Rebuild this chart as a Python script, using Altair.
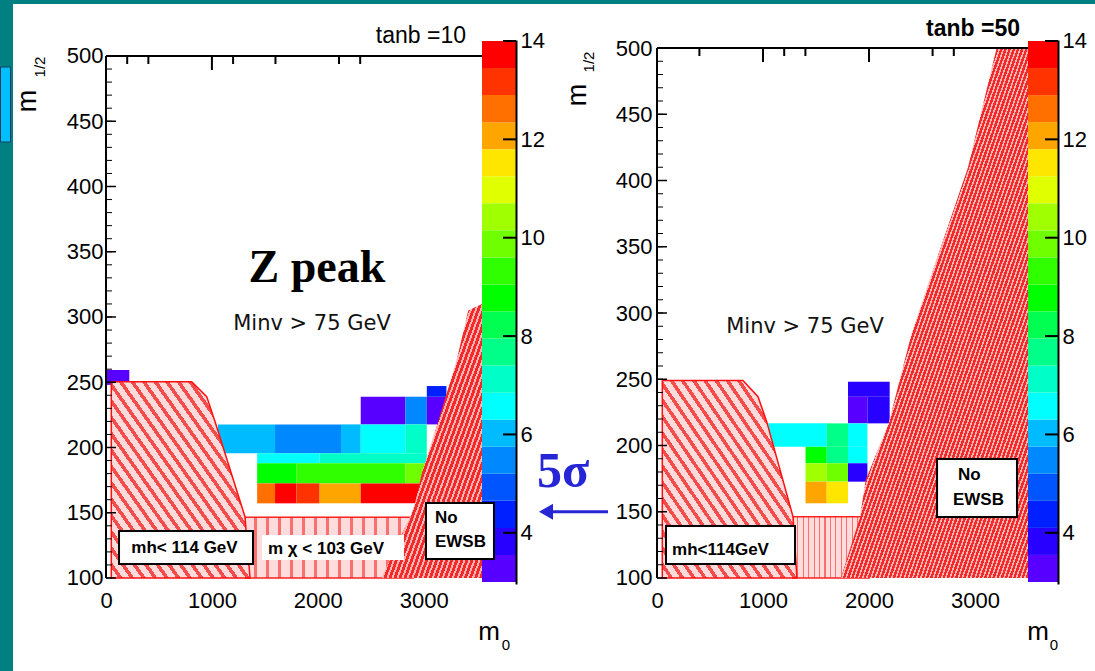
import altair as alt
import pandas as pd

FONT = "Liberation Sans"
SERIF = "Liberation Serif"
TEAL = "#008080"
BLUE = "#2626D6"

# ---------------- colour scale: 20 contour levels between 3 and 14 ----------------
Z_EDGES = [3.0, 3.55, 4.1, 4.65, 5.2, 5.75, 6.3, 6.85, 7.4, 7.95, 8.5,
           9.05, 9.6, 10.15, 10.7, 11.25, 11.8, 12.35, 12.9, 13.45, 14.0]
PALETTE = ["#5800FF", "#2800FF", "#0020FF", "#0055FF", "#0088FF", "#00BBFF",
           "#00FFFF", "#00FFC8", "#00FF88", "#00FF50", "#00FF00", "#30FF00",
           "#70FF00", "#A0FF00", "#E0FF00", "#FFE600", "#FFA500", "#FF7000",
           "#FF3300", "#FF0000"]
CBAR_TICKS = [4, 6, 8, 10, 12, 14]
X_LABELS = [0, 1000, 2000, 3000]
Y_LABELS = [100, 150, 200, 250, 300, 350, 400, 450, 500]
Y_MINOR = [100, 110, 120, 130, 140, 150, 160, 170, 180, 190, 200, 210, 220, 230,
           240, 250, 260, 270, 280, 290, 300, 310, 320, 330, 340, 350, 360, 370,
           380, 390, 400, 410, 420, 430, 440, 450, 460, 470, 480, 490, 500]

# ---------------- left panel (tanb = 10) ----------------
L_X0 = [0, 2405, 2827, 3029, 3029, 1056, 1596, 2219, 2405, 2827, 1427, 2017,
        1427, 1798, 2827, 1427, 1596, 1798, 2017, 2405]
L_X1 = [220, 2827, 3029, 3214, 3214, 1596, 2219, 2405, 2827, 3029, 2017, 3029,
        1798, 2827, 3029, 1596, 1798, 2017, 2405, 2990]
L_Y0 = [248.0, 217.7, 217.7, 217.7, 238.9, 195.5, 195.5, 195.5, 195.5, 195.5,
        187.9, 187.9, 172.5, 172.5, 172.5, 157.2, 157.2, 157.2, 157.2, 157.2]
L_Y1 = [259.4, 238.9, 238.9, 238.9, 247.1, 217.7, 217.7, 217.7, 217.7, 217.7,
        195.5, 195.5, 187.9, 187.9, 187.9, 172.5, 172.5, 172.5, 172.5, 172.5]
L_Z = [3.3, 3.3, 5.5, 3.3, 4.4, 6.0, 5.5, 6.0, 6.6, 7.1,
       6.6, 7.1, 8.8, 9.3, 9.9, 12.6, 13.7, 13.2, 12.1, 13.7]

L_HIGGS_X = [50, 809, 951, 1029, 1312, 1360]
L_HIGGS_Y = [250.4, 250.4, 239, 220, 147, 100]
L_CHARG = [1312, 2900, 100, 146.5]
L_EWSB_Y = [100, 147, 157, 180, 216, 267, 305, 310]
L_EWSB_X = [2600, 2870, 2917, 2981, 3122, 3311, 3420, 3550]
L_TOP_MINOR = [200, 400, 1200, 1600, 2200, 2400]
L_TOP_MAJOR = [1000]

# ---------------- right panel (tanb = 50) ----------------
R_X0 = [1802, 1802, 1985, 1050, 1601, 1802, 1401, 1601, 1802, 1401, 1601, 1802, 1401, 1601]
R_X1 = [2195, 1985, 2195, 1601, 1802, 1985, 1601, 1802, 1985, 1601, 1802, 1985, 1601, 1802]
R_Y0 = [236.8, 216.7, 216.7, 199.0, 199.0, 199.0, 186.6, 186.6, 186.6, 172.7, 172.7, 172.7, 156.4, 156.4]
R_Y1 = [248.2, 236.8, 236.8, 216.7, 216.7, 216.7, 199.0, 199.0, 199.0, 186.6, 186.6, 186.6, 172.7, 172.7]
R_Z = [3.8, 3.3, 3.8, 6.6, 7.7, 6.6, 8.8, 7.7, 6.6, 10.4, 9.9, 3.8, 12.1, 11.5]

R_HIGGS_X = [50, 811, 953, 1035, 1283, 1320]
R_HIGGS_Y = [249, 249, 236.8, 218, 146.3, 100]
R_CHARG = [1283, 2000, 100, 146.3]
R_EWSB_Y = [100, 146, 174, 217, 285, 410, 500]
R_EWSB_X = [1736, 1915, 1969, 2186, 2403, 2934, 3204]
R_TOP_MINOR = [400, 1200, 1400, 2600, 2800]
R_TOP_MAJOR = [1000, 2000]

COLOR = alt.Scale(type="quantize", domain=[3, 14], range=PALETTE)
ONE = pd.DataFrame({"a": [0]})
H = 544


def hatch(base, ink, n, frac, x1=0, y1=1, x2=1, y2=0):
    """Striped linear gradient used as a stand-in for ROOT's hatched fill style."""
    stops = []
    for k in range(n):
        a = k / n
        b = (k + 1 - frac) / n
        c = (k + 1) / n
        stops += [alt.GradientStop(color=base, offset=a), alt.GradientStop(color=base, offset=b),
                  alt.GradientStop(color=ink, offset=b), alt.GradientStop(color=ink, offset=c)]
    return alt.LinearGradient(gradient="linear", stops=stops, x1=x1, y1=y1, x2=x2, y2=y2)


def ptext(x, y, s, **kw):
    return alt.Chart(ONE).mark_text(**kw).encode(
        x=alt.value(x), y=alt.value(y), text=alt.value(s))


def build(cfg):
    W = cfg["W"]
    X = alt.Scale(domain=[0, cfg["xmax"]], nice=False, zero=False)
    Y = alt.Scale(domain=cfg["ydom"], nice=False, zero=False)
    common = dict(title=None, labelFlush=False, labelOverlap=False, zindex=1, domain=False,
                  ticks=False, tickSize=0, grid=False, labelFont=FONT, labelFontSize=22,
                  labelColor="black", format="d")
    xa = alt.Axis(orient="bottom", values=X_LABELS, labelPadding=6, **common)
    ya = alt.Axis(orient="left", values=Y_LABELS, labelPadding=cfg["ypad"], **common)

    def xe(f):
        return alt.X(f, type="quantitative", scale=X, axis=xa)

    def ye(f):
        return alt.Y(f, type="quantitative", scale=Y, axis=ya)

    def dtext(x, y, s, **kw):
        return alt.Chart(pd.DataFrame({"x": [x], "y": [y], "s": [s]})).mark_text(**kw).encode(
            x=xe("x"), y=ye("y"), text="s:N")

    def box(x0, x1, y0, y1, stroke=True):
        m = alt.Chart(pd.DataFrame({"x0": [x0], "x1": [x1], "y0": [y0], "y1": [y1]}))
        if stroke:
            m = m.mark_rect(fill="white", stroke="black", strokeWidth=2)
        else:
            m = m.mark_rect(fill="white")
        return m.encode(x=xe("x0"), x2="x1:Q", y=ye("y0"), y2="y1:Q")

    cells = alt.Chart(pd.DataFrame({"x0": cfg["cx0"], "x1": cfg["cx1"], "y0": cfg["cy0"],
                                    "y1": cfg["cy1"], "z": cfg["cz"]})).mark_rect().encode(
        x=xe("x0"), x2="x1:Q", y=ye("y0"), y2="y1:Q",
        color=alt.Color("z:Q", scale=COLOR, legend=None))

    cx = cfg["charg"]
    charg = alt.Chart(pd.DataFrame({"x0": [cx[0]], "x1": [cx[1]], "y0": [cx[2]], "y1": [cx[3]]})).mark_rect(
        fill=hatch("#FFDCDC", "#F87070", 14, 0.22, 0, 0, 1, 0), stroke="#FF2020", strokeWidth=1.5).encode(
        x=xe("x0"), x2="x1:Q", y=ye("y0"), y2="y1:Q")

    higgs = alt.Chart(pd.DataFrame({"x": cfg["hx"], "y": cfg["hy"], "y0": [100] * len(cfg["hx"])})).mark_area(
        orient="vertical", fill=hatch("#FFDADA", "#F54C4C", 24, 0.38),
        stroke="#FF1010", strokeWidth=1.5, opacity=1).encode(
        x=xe("x"), y=ye("y"), y2="y0:Q")

    ewsb = alt.Chart(pd.DataFrame({"y": cfg["ey"], "x": cfg["ex"], "xr": [cfg["xmax"]] * len(cfg["ex"])})).mark_area(
        orient="horizontal", fill=hatch("#FFB4B4", "#F42A2A", cfg["en"], 0.6, 0, 0, 1, 1), opacity=1).encode(
        y=ye("y"), x=xe("x"), x2="xr:Q")

    frame = alt.Chart(pd.DataFrame({"x0": [0, 0], "x1": [cfg["xmax"], 0], "y0": [500, 100],
                                    "y1": [500, 500]})).mark_rule(color="black", strokeWidth=2).encode(
        x=xe("x0"), x2="x1:Q", y=ye("y0"), y2="y1:Q")

    lt = alt.Chart(pd.DataFrame({"v": Y_MINOR})).mark_rule(color="black", strokeWidth=1).encode(
        y=ye("v"), x=alt.value(0), x2=alt.value(6))
    ltM = alt.Chart(pd.DataFrame({"v": Y_LABELS})).mark_rule(color="black", strokeWidth=1.5).encode(
        y=ye("v"), x=alt.value(0), x2=alt.value(10))
    tt = alt.Chart(pd.DataFrame({"m": cfg["tmin"]})).mark_rule(color="black", strokeWidth=2).encode(
        x=xe("m"), y=alt.value(cfg["top"]), y2=alt.value(cfg["top"] + 8))
    ttM = alt.Chart(pd.DataFrame({"m": cfg["tmaj"]})).mark_rule(color="black", strokeWidth=2).encode(
        x=xe("m"), y=alt.value(cfg["top"]), y2=alt.value(cfg["top"] + 14))

    layers = [cells, charg, higgs, ewsb, frame, lt, ltM, tt, ttM]
    for b in cfg["boxes"]:
        layers.append(box(*b))
    for t in cfg["dtexts"]:
        layers.append(dtext(*t[:3], **t[3]))
    for extra in cfg.get("extra", []):
        layers.append(extra(xe, ye))
    inner = alt.layer(*layers)

    # colour bar
    cbw = cfg["cbw"]
    YC = alt.Scale(domain=[2.959, 14.02], nice=False, zero=False)
    cc = dict(common)
    cc["domain"] = True
    ca = alt.Axis(orient="right", offset=cbw, values=CBAR_TICKS, labelPadding=4,
                  domainColor="black", domainWidth=2, **cc)
    cb = pd.DataFrame({"lo": Z_EDGES[:-1], "hi": Z_EDGES[1:]})
    cb["mid"] = (cb["lo"] + cb["hi"]) / 2
    bands = alt.Chart(cb).mark_rect().encode(
        x=alt.value(W), x2=alt.value(W + cbw),
        y=alt.Y("lo", type="quantitative", scale=YC, axis=ca), y2="hi:Q",
        color=alt.Color("mid:Q", scale=COLOR, legend=None))
    cticks = alt.Chart(pd.DataFrame({"t": CBAR_TICKS})).mark_rule(color="black", strokeWidth=2).encode(
        x=alt.value(W + cbw - 13), x2=alt.value(W + cbw),
        y=alt.Y("t", type="quantitative", scale=YC, axis=ca))
    cbar = alt.layer(bands, cticks)

    return alt.layer(*cfg["pre"], cbar, inner, *cfg["post"]).resolve_scale(
        y="independent").properties(width=W, height=H)


# ---------------- pixel-positioned decorations ----------------
bg_white = alt.Chart(ONE).mark_rect(fill="white").encode(
    x=alt.value(-93), x2=alt.value(989), y=alt.value(-36), y2=alt.value(631))
tab = alt.Chart(ONE).mark_rect(fill="#00BFFF", stroke="#1E3A5A", strokeWidth=1).encode(
    x=alt.value(-105.5), x2=alt.value(-95.5), y=alt.value(27), y2=alt.value(102))

post1 = [
    ptext(360, 3, "tanb =10", font=FONT, fontSize=23, align="right", baseline="alphabetic", color="black"),
    ptext(-78, 61, "m", font=FONT, fontSize=27, angle=270, align="center", baseline="middle", color="black"),
    ptext(-66, 27, "1/2", font=FONT, fontSize=15, angle=270, align="center", baseline="middle", color="black"),
    ptext(383, 592, "m", font=FONT, fontSize=26, align="center", baseline="middle", color="black"),
    ptext(400, 605, "0", font=FONT, fontSize=15, align="center", baseline="middle", color="black"),
]
post2 = [
    ptext(363, -4, "tanb =50", font=FONT, fontSize=23, fontWeight="bold", align="right",
          baseline="alphabetic", color="black"),
    ptext(-79, 55, "m", font=FONT, fontSize=27, angle=270, align="center", baseline="middle", color="black"),
    ptext(-68, 22, "1/2", font=FONT, fontSize=15, angle=270, align="center", baseline="middle", color="black"),
    ptext(381, 592, "m", font=FONT, fontSize=26, align="center", baseline="middle", color="black"),
    ptext(397, 605, "0", font=FONT, fontSize=15, align="center", baseline="middle", color="black"),
    ptext(-120, 447, "5σ", font=SERIF, fontSize=50, fontWeight="bold", align="left",
          baseline="alphabetic", color=BLUE),
]


def arrow_line(xe, ye):
    return alt.Chart(pd.DataFrame({"v": [150]})).mark_rule(color=BLUE, strokeWidth=3).encode(
        y=ye("v"), x=alt.value(-104), x2=alt.value(-49))


def arrow_head(xe, ye):
    return alt.Chart(pd.DataFrame({"v": [150]})).mark_point(
        shape="triangle-left", filled=True, size=260, color=BLUE, opacity=1).encode(
        y=ye("v"), x=alt.value(-111))


bold17 = dict(font=FONT, fontSize=17, fontWeight="bold", color="black", baseline="middle")
mid21 = dict(font="DejaVu Sans", fontSize=21, color="#111111", align="center", baseline="alphabetic")

left_cfg = dict(
    W=376, xmax=3550, ydom=[95.40, 512.26], ypad=3, top=16, cbw=34, en=40,
    cx0=L_X0, cx1=L_X1, cy0=L_Y0, cy1=L_Y1, cz=L_Z,
    hx=L_HIGGS_X, hy=L_HIGGS_Y, charg=L_CHARG, ex=L_EWSB_X, ey=L_EWSB_Y,
    tmin=L_TOP_MINOR, tmaj=L_TOP_MAJOR,
    boxes=[(123, 1388, 110.7, 136), (1473, 2813, 113.8, 133, False), (3021, 3663, 114.6, 157.5)],
    dtexts=[
        (1992, 326.8, "Z peak", dict(font=SERIF, fontSize=46, fontWeight="bold", color="black",
                                     align="center", baseline="alphabetic")),
        (1945, 290, "Minv > 75 GeV", mid21),
        (741, 123, "mh< 114 GeV", dict(align="center", **bold17)),
        (1529, 122.5, "m χ < 103 GeV", dict(align="left", **bold17)),
        (3106, 146, "No", dict(align="left", **bold17)),
        (3106, 127.6, "EWSB", dict(align="left", **bold17)),
    ],
    pre=[bg_white, tab], post=post1,
)

right_cfg = dict(
    W=371, xmax=3500, ydom=[95.47, 506.04], ypad=5, top=8, cbw=30, en=90,
    cx0=R_X0, cx1=R_X1, cy0=R_Y0, cy1=R_Y1, cz=R_Z,
    hx=R_HIGGS_X, hy=R_HIGGS_Y, charg=R_CHARG, ex=R_EWSB_X, ey=R_EWSB_Y,
    tmin=R_TOP_MINOR, tmaj=R_TOP_MAJOR,
    boxes=[(85, 1302, 110.6, 139.2), (2642, 3396, 146, 189.8)],
    dtexts=[
        (1396, 284.9, "Minv > 75 GeV", mid21),
        (142, 121, "mh<114GeV", dict(align="left", **bold17)),
        (2840, 177.7, "No", dict(align="left", **bold17)),
        (2792, 158.9, "EWSB", dict(align="left", **bold17)),
    ],
    extra=[arrow_line, arrow_head],
    pre=[], post=post2,
)

chart = alt.hconcat(build(left_cfg), build(right_cfg), spacing=175, bounds="flush").properties(
    padding={"left": 0, "top": 4, "right": 0, "bottom": 0},
    background=TEAL,
).configure_view(stroke=None)

chart.save("out.html", embed_options={"renderer": "svg", "actions": False})
